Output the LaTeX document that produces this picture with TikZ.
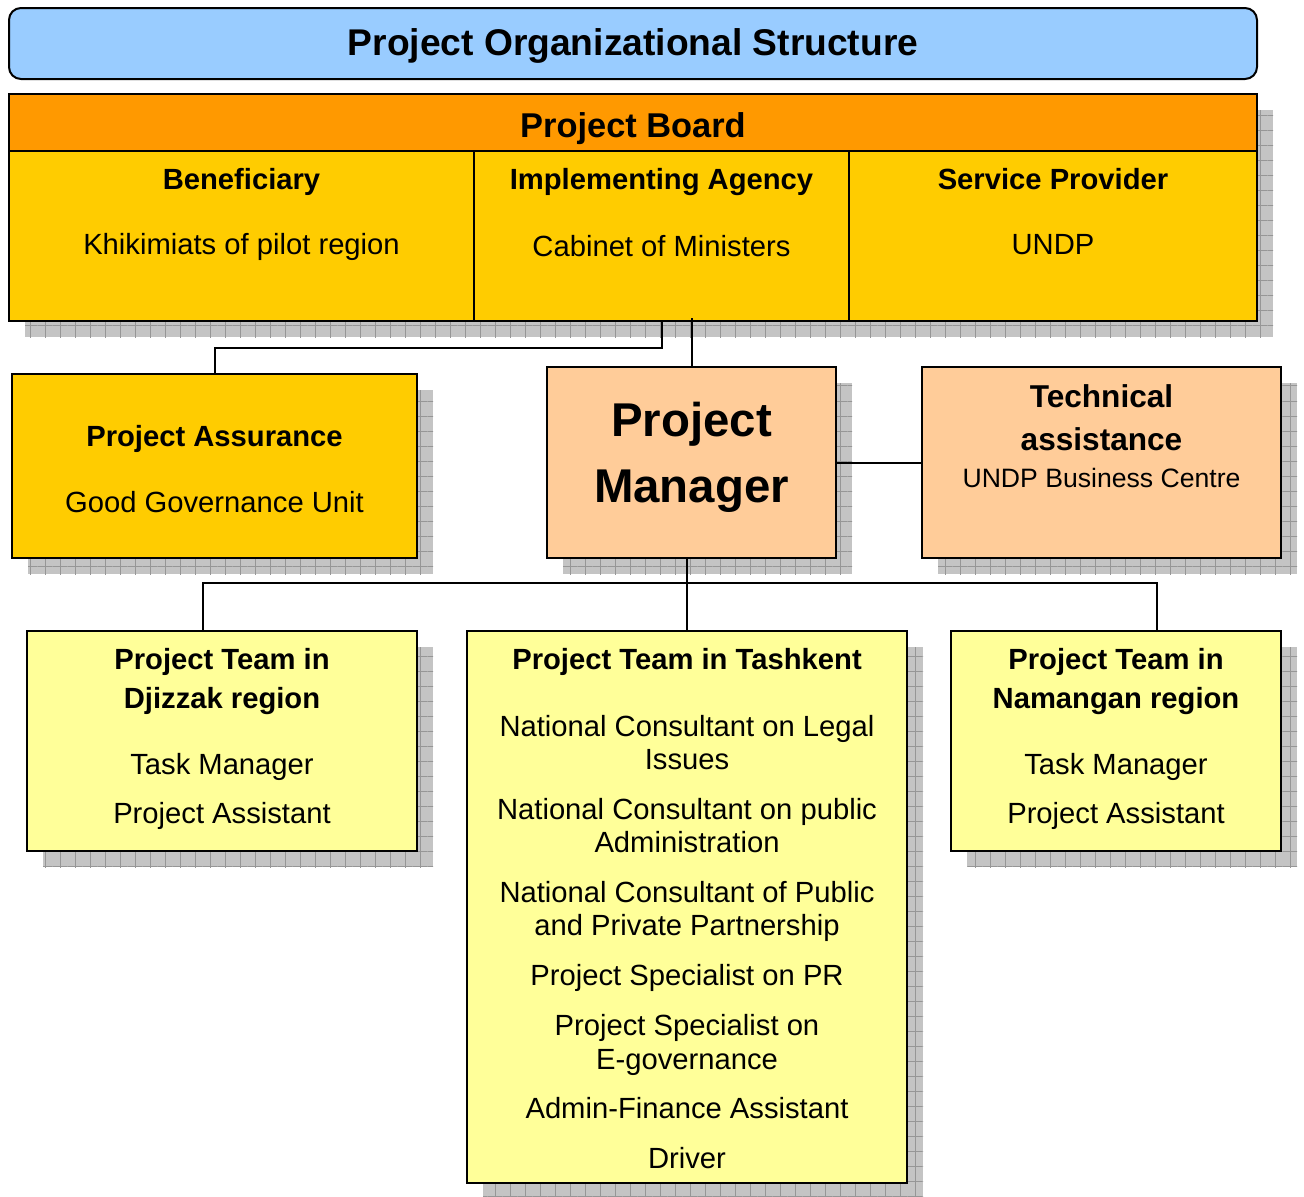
\documentclass[tikz,border=0pt]{standalone}
\usepackage{fontspec}
\setmainfont{Liberation Sans}
\usetikzlibrary{patterns.meta}
\definecolor{titleblue}{HTML}{99CCFF}
\definecolor{boardorange}{HTML}{FF9900}
\definecolor{gold}{HTML}{FFCC00}
\definecolor{peach}{HTML}{FFCC99}
\definecolor{paleyellow}{HTML}{FFFF99}
\definecolor{shadowgray}{HTML}{C4C4C4}
\definecolor{gridgray}{HTML}{969696}
\tikzset{
  boxframe/.style={draw=black, line width=1pt, inner sep=0pt, outer sep=0pt},
  shadowbox/.style={fill=shadowgray, postaction={pattern={Hatch[angle=0,distance=7.5pt,line width=0.5pt]}, pattern color=gridgray}},
  link/.style={draw=black, line width=1pt},
  txt/.style={anchor=base, inner sep=0pt, font=\fontsize{14.6}{17}\selectfont},
  btxt/.style={anchor=base, inner sep=0pt, font=\fontsize{14.6}{17}\selectfont\bfseries},
}
\newcommand\orgbox[6]{%
  \fill[shadowbox] ({#2+16},{#3+16}) rectangle ({#4+16},{#5+16});
  \pgfmathsetmacro\orgW{(#4-#2)*0.5}\pgfmathsetmacro\orgH{(#5-#3)*0.5}%
  \node[boxframe, #6, minimum width=\orgW pt, minimum height=\orgH pt] (#1) at ({(#2+#4)/2},{(#3+#5)/2}) {};
}
\newcommand\plainbox[6]{%
  \pgfmathsetmacro\orgW{(#4-#2)*0.5}\pgfmathsetmacro\orgH{(#5-#3)*0.5}%
  \node[boxframe, #6, minimum width=\orgW pt, minimum height=\orgH pt] (#1) at ({(#2+#4)/2},{(#3+#5)/2}) {};
}
\begin{document}
\begin{tikzpicture}[x=0.5pt, y=-0.5pt]
\useasboundingbox (0,0) rectangle (1304,1196);

% title
\plainbox{title}{9}{8}{1257}{79}{fill=titleblue, rounded corners=6pt}
\node[anchor=base, inner sep=0pt, font=\fontsize{18.6}{22}\selectfont\bfseries] (titletxt) at (633,55) {Project Organizational Structure};

% board
\orgbox{board}{9}{94}{1257}{321}{fill=gold}
\plainbox{boardhead}{9}{94}{1257}{151}{fill=boardorange}
\node[anchor=base, inner sep=0pt, font=\fontsize{17.2}{21}\selectfont\bfseries] (boardtxt) at (633,137) {Project Board};
\draw[link] (474,151) -- (474,321);
\draw[link] (849,151) -- (849,321);
\node[btxt] (benef) at (241.5,189) {Beneficiary};
\node[txt] (benefb) at (241.5,254) {Khikimiats of pilot region};
\node[btxt] (impl) at (661.5,189) {Implementing Agency};
\node[txt] (implb) at (661.5,256) {Cabinet of Ministers};
\node[btxt] (serv) at (1053,189) {Service Provider};
\node[txt] (servb) at (1053,254) {UNDP};

% second row
\orgbox{assurance}{12}{374}{417}{558}{fill=gold}
\node[btxt] (asst) at (214.5,446) {Project Assurance};
\node[txt] (assb) at (214.5,512) {Good Governance Unit};

\orgbox{pm}{547}{367}{836}{558}{fill=peach}
\node[anchor=base, inner sep=0pt, font=\fontsize{23.7}{28}\selectfont\bfseries] (pmt1) at (691.5,436) {Project};
\node[anchor=base, inner sep=0pt, font=\fontsize{23.7}{28}\selectfont\bfseries] (pmt2) at (691.5,502.5) {Manager};

\orgbox{tech}{922}{367}{1281}{558}{fill=peach}
\node[anchor=base, inner sep=0pt, font=\fontsize{15.8}{19}\selectfont\bfseries] (techt1) at (1101.5,407.5) {Technical};
\node[anchor=base, inner sep=0pt, font=\fontsize{15.8}{19}\selectfont\bfseries] (techt2) at (1101.5,450) {assistance};
\node[anchor=base, inner sep=0pt, font=\fontsize{13.3}{16}\selectfont] (techb) at (1101.5,487.5) {UNDP Business Centre};

% third row
\orgbox{djizzak}{27}{631}{417}{851}{fill=paleyellow}
\node[btxt] (dj1) at (222,669) {Project Team in};
\node[btxt] (dj2) at (222,708) {Djizzak region};
\node[txt] (dj3) at (222,774) {Task Manager};
\node[txt] (dj4) at (222,823) {Project Assistant};

\orgbox{tashkent}{467}{631}{907}{1183}{fill=paleyellow}
\node[btxt] (ta0) at (687,669) {Project Team in Tashkent};
\node[txt] (ta1) at (687,736.5) {National Consultant on Legal};
\node[txt] (ta2) at (687,769) {Issues};
\node[txt] (ta3) at (687,819) {National Consultant on public};
\node[txt] (ta4) at (687,852.5) {Administration};
\node[txt] (ta5) at (687,902.5) {National Consultant of Public};
\node[txt] (ta6) at (687,935.5) {and Private Partnership};
\node[txt] (ta7) at (687,985.5) {Project Specialist on PR};
\node[txt] (ta8) at (687,1035.5) {Project Specialist on};
\node[txt] (ta9) at (687,1069) {E-governance};
\node[txt] (ta10) at (687,1118.5) {Admin-Finance Assistant};
\node[txt] (ta11) at (687,1168.5) {Driver};

\orgbox{namangan}{951}{631}{1281}{851}{fill=paleyellow}
\node[btxt] (na1) at (1116,669) {Project Team in};
\node[btxt] (na2) at (1116,708) {Namangan region};
\node[txt] (na3) at (1116,774) {Task Manager};
\node[txt] (na4) at (1116,823) {Project Assistant};

% connectors
\coordinate (boardtap) at (662,321);
\coordinate (asselbow) at (662,348);
\draw[link] (boardtap) -- (asselbow) -| (assurance.north);
\draw[link] (pm.north) -- ([yshift=1.5pt]pm.north |- board.south);
\draw[link] (pm.east) -- (tech.west);
\coordinate (busL) at (203,583);
\coordinate (busR) at (1157,583);
\draw[link] (tashkent.north) -- (tashkent.north |- pm.south);
\draw[link] (djizzak.north -| busL) -- (busL) -- (busR) -- (namangan.north -| busR);
\end{tikzpicture}
\end{document}
